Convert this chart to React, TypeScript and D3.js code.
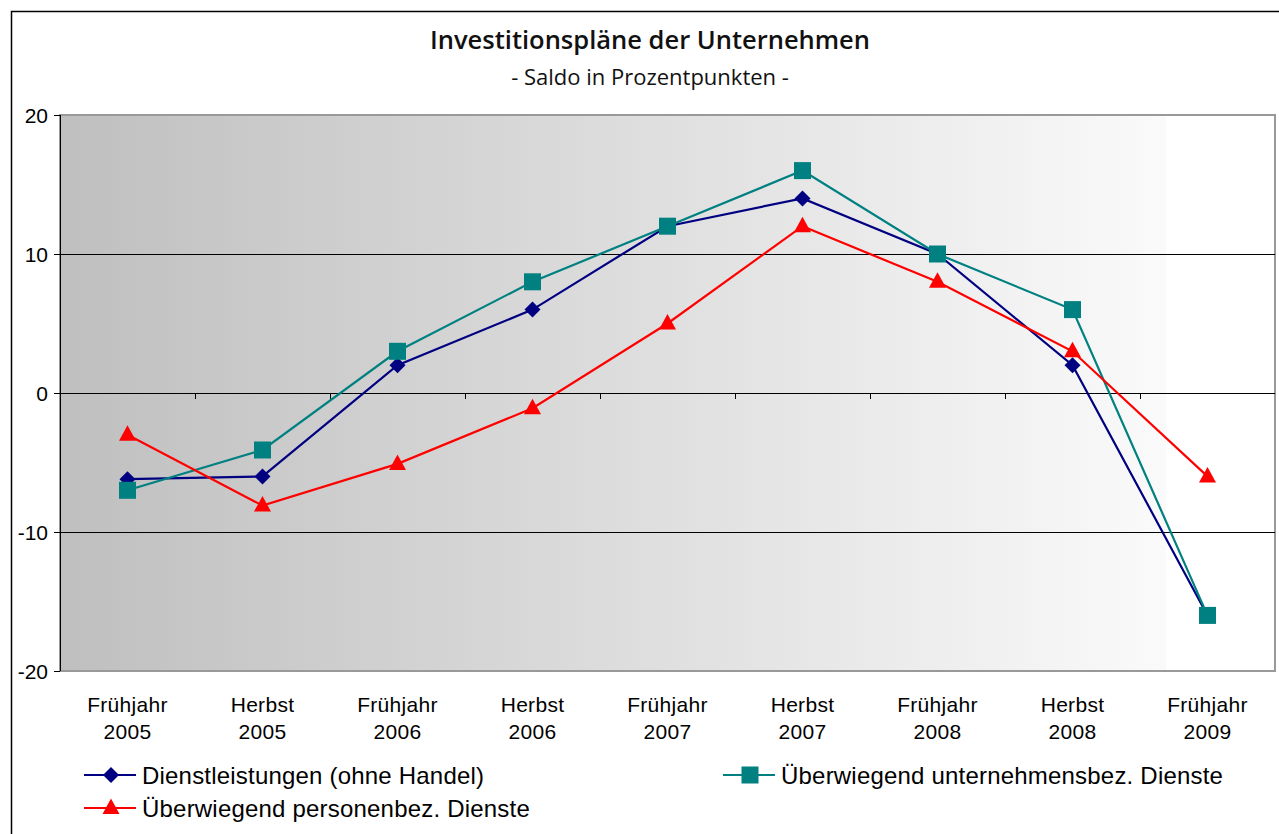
import React from "react";
import * as d3 from "d3";

// data
const categories = [
  ["Frühjahr", "2005"],
  ["Herbst", "2005"],
  ["Frühjahr", "2006"],
  ["Herbst", "2006"],
  ["Frühjahr", "2007"],
  ["Herbst", "2007"],
  ["Frühjahr", "2008"],
  ["Herbst", "2008"],
  ["Frühjahr", "2009"],
];
const dienstleistungen = [-6.2, -6, 2, 6, 12, 14, 10, 2, -16];
const unternehmensbez = [-7, -4.1, 3, 8, 12, 16, 10, 6, -16];
const personenbez = [-3, -8.1, -5.1, -1.1, 5, 12, 8, 3, -6];
const yTicks = [-20, -10, 0, 10, 20];

const series = [
  { name: "Dienstleistungen (ohne Handel)", values: dienstleistungen, color: "#000080", marker: "diamond" },
  { name: "Überwiegend unternehmensbez. Dienste", values: unternehmensbez, color: "#008080", marker: "square" },
  { name: "Überwiegend personenbez. Dienste", values: personenbez, color: "#ff0000", marker: "triangle" },
];

const W = 1279;
const H = 834;
const plot = { left: 60, right: 1275, top: 115, bottom: 671 };

const Marker = ({ type, x, y, color }) => {
  if (type === "diamond") {
    return <path d={`M${x},${y - 8}L${x + 8},${y}L${x},${y + 8}L${x - 8},${y}Z`} fill={color} />;
  }
  if (type === "square") {
    return <rect x={x - 8.5} y={y - 8.5} width={17} height={17} fill={color} />;
  }
  return <path d={`M${x},${y - 9.5}L${x + 8.5},${y + 6}L${x - 8.5},${y + 6}Z`} fill={color} />;
};

const App = () => {
  const x = d3
    .scaleBand()
    .domain(categories.map((c, i) => String(i)))
    .range([plot.left, plot.right]);
  const y = d3.scaleLinear().domain([-20, 20]).range([plot.bottom, plot.top]);
  const cx = (i) => x(String(i)) + x.bandwidth() / 2;

  const line = d3
    .line()
    .x((d, i) => cx(i))
    .y((d) => y(d));

  const font = "'Liberation Sans', Arial, sans-serif";

  return (
    <svg width={W} height={H} style={{ position: "absolute", left: 0, top: 0 }}>
      <defs>
        <linearGradient id="bg" x1="0" x2="1" y1="0" y2="0">
          <stop offset="0" stopColor="#bfbfbf" />
          <stop offset="0.91" stopColor="#fafafa" />
          <stop offset="0.911" stopColor="#ffffff" />
        </linearGradient>
      </defs>
      <rect x={0} y={0} width={W} height={H} fill="#fff" />
      {/* outer chart frame */}
      <rect x={11.5} y={11.5} width={W + 20} height={H + 20} fill="none" stroke="#000" strokeWidth={1.5} />

      <text x={650} y={49} textAnchor="middle" fontFamily="'Open Sans', sans-serif" fontWeight={600} fontSize={25.5} fill="#111">
        Investitionspläne der Unternehmen
      </text>
      <text x={650} y={85} textAnchor="middle" fontFamily="'Open Sans', sans-serif" fontSize={22} fill="#111">
        - Saldo in Prozentpunkten -
      </text>

      {/* plot area */}
      <rect
        x={plot.left}
        y={plot.top}
        width={plot.right - plot.left}
        height={plot.bottom - plot.top}
        fill="url(#bg)"
        stroke="#999"
        strokeWidth={2}
      />
      {yTicks.map((t) => (
        <g key={t}>
          {t > -20 && t < 20 && (
            <line x1={plot.left} x2={plot.right} y1={y(t) + 0.5} y2={y(t) + 0.5} stroke="#000" strokeWidth={1} />
          )}
          <line x1={plot.left - 6} x2={plot.left} y1={y(t) + 0.5} y2={y(t) + 0.5} stroke="#000" />
          <text x={plot.left - 12} y={y(t) + 8} textAnchor="end" fontFamily={font} fontSize={21} fill="#000">
            {t}
          </text>
        </g>
      ))}
      <line x1={plot.left + 0.5} x2={plot.left + 0.5} y1={plot.top} y2={plot.bottom} stroke="#000" />
      {/* x axis at zero with ticks between categories */}
      {categories.slice(1).map((c, i) => (
        <line
          key={i}
          x1={Math.round(x(String(i + 1))) + 0.5}
          x2={Math.round(x(String(i + 1))) + 0.5}
          y1={y(0)}
          y2={y(0) + 6}
          stroke="#000"
        />
      ))}
      {categories.map((c, i) => (
        <text key={i} textAnchor="middle" fontFamily={font} fontSize={21} letterSpacing={0.3} fill="#000">
          <tspan x={cx(i)} y={712}>{c[0]}</tspan>
          <tspan x={cx(i)} y={739}>{c[1]}</tspan>
        </text>
      ))}

      {series.map((s) => (
        <g key={s.name}>
          <path d={line(s.values)} fill="none" stroke={s.color} strokeWidth={2.2} />
          {s.values.map((v, i) => (
            <Marker key={i} type={s.marker} x={cx(i)} y={y(v)} color={s.color} />
          ))}
        </g>
      ))}

      {/* legend */}
      {[
        { s: series[0], lx: 84, ly: 775 },
        { s: series[1], lx: 723, ly: 775 },
        { s: series[2], lx: 84, ly: 808 },
      ].map(({ s, lx, ly }) => (
        <g key={s.name}>
          <line x1={lx} x2={lx + 52} y1={ly} y2={ly} stroke={s.color} strokeWidth={2.2} />
          <Marker type={s.marker} x={lx + 27} y={ly} color={s.color} />
          <text x={lx + 58} y={ly + 9} fontFamily={font} fontSize={24} letterSpacing={0.2} fill="#000">
            {s.name}
          </text>
        </g>
      ))}
    </svg>
  );
};

export default App;
